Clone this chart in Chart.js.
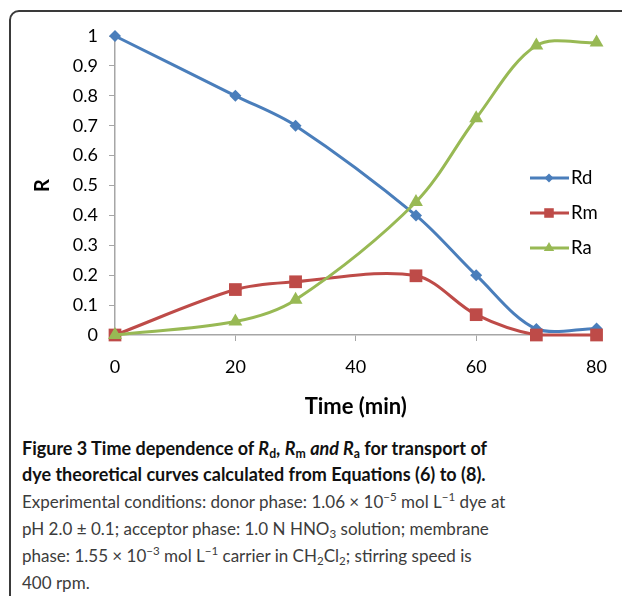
<!DOCTYPE html>
<html>
<head>
<meta charset="utf-8">
<script src="https://cdn.jsdelivr.net/npm/chart.js@4/dist/chart.umd.min.js"></script>
<style>
  html, body { margin: 0; padding: 0; background: #fff; overflow: hidden; }
  body { width: 622px; height: 596px; position: relative; }
  #wrap { position: absolute; left: 0; top: 0; width: 622px; height: 430px; }
  #frame {
    position: absolute; left: 9px; top: 10px; width: 700px; height: 700px;
    border: 2px solid #3a3a3a; border-top-left-radius: 10px;
  }
  .cap {
    position: absolute; left: 22px; top: 435px; white-space: nowrap;
    font-family: Lato, "Open Sans", sans-serif; font-size: 18px; line-height: 26.3px; color: #222;
  }
  .cap .b { font-weight: bold; color: #111; font-size: 18px; }
  .cap .r { color: #3c3c3c; font-size: 17px; }
  sub, sup { font-size: 68%; line-height: 0; }
  sub { vertical-align: -0.25em; }
  sup { vertical-align: 0.6em; }
</style>
</head>
<body>
<div id="frame"></div>
<div id="wrap"><canvas id="fig"></canvas></div>
<div class="cap">
  <span class="b">Figure 3 Time dependence of <i>R</i><sub>d</sub>, <i>R</i><sub>m</sub> <i>and R</i><sub>a</sub> for transport of</span><br>
  <span class="b">dye theoretical curves calculated from Equations (6) to (8).</span><br>
  <span class="r">Experimental conditions: donor phase: 1.06 × 10<sup>−5</sup> mol L<sup>−1</sup> dye at</span><br>
  <span class="r">pH 2.0 ± 0.1; acceptor phase: 1.0 N HNO<sub>3</sub> solution; membrane</span><br>
  <span class="r">phase: 1.55 × 10<sup>−3</sup> mol L<sup>−1</sup> carrier in CH<sub>2</sub>Cl<sub>2</sub>; stirring speed is</span><br>
  <span class="r">400 rpm.</span>
</div>
<script>
// time points (min)
const times = [0, 20, 30, 50, 60, 70, 80];
// fractions
const rd = [1.0, 0.8, 0.7, 0.4, 0.2, 0.02, 0.022];
const rm = [0.0, 0.152, 0.178, 0.198, 0.068, 0.0, 0.0];
const ra = [0.0, 0.045, 0.118, 0.445, 0.725, 0.968, 0.978];
const yTickLabels = ['0', '0.1', '0.2', '0.3', '0.4', '0.5', '0.6', '0.7', '0.8', '0.9', '1'];
const seriesNames = ['Rd', 'Rm', 'Ra'];

const blue = '#4a7ebb', red = '#be4b48', green = '#98b954';
const axisGray = '#a6a6a6';
const fontFam = 'Lato, "Open Sans", sans-serif';

function pts(vals) {
  return times.map((t, i) => ({ x: t, y: vals[i] }));
}

const legendItems = [
  { name: seriesNames[0], color: blue, style: 'rectRot', radius: 6 },
  { name: seriesNames[1], color: red, style: 'rect', radius: 9 },
  { name: seriesNames[2], color: green, style: 'triangle', radius: 8 }
];

const sideLegend = {
  id: 'sideLegend',
  afterDatasetsDraw(chart) {
    const ctx = chart.ctx;
    ctx.save();
    legendItems.forEach((it, i) => {
      const y = 178 + i * 35;
      ctx.strokeStyle = it.color;
      ctx.lineWidth = 3;
      ctx.beginPath();
      ctx.moveTo(530, y);
      ctx.lineTo(569, y);
      ctx.stroke();
      ctx.fillStyle = it.color;
      Chart.helpers.drawPoint(ctx, { pointStyle: it.style, radius: it.radius * 0.75, rotation: 0, borderWidth: 0 }, 549, y);
      ctx.fillStyle = '#000';
      ctx.font = '18.5px ' + fontFam;
      ctx.textBaseline = 'middle';
      ctx.textAlign = 'left';
      ctx.fillText(it.name, 571, y);
    });
    ctx.restore();
  }
};

const makeSet = (label, vals, color, style, radius, order) => ({
  label: label,
  data: pts(vals),
  borderColor: color,
  backgroundColor: color,
  borderWidth: 3,
  pointStyle: style,
  pointRadius: radius,
  pointBorderWidth: 0,
  tension: 0.33,
  clip: false,
  order: order
});

new Chart(document.getElementById('fig'), {
  type: 'line',
  data: {
    datasets: [
      makeSet(seriesNames[0], rd, blue, 'rectRot', 6, 2),
      makeSet(seriesNames[1], rm, red, 'rect', 9, 1),
      makeSet(seriesNames[2], ra, green, 'triangle', 8, 0)
    ]
  },
  options: {
    responsive: true,
    maintainAspectRatio: false,
    animation: false,
    layout: { padding: { top: 36, right: 25, bottom: 0, left: 0 } },
    scales: {
      x: {
        type: 'linear',
        min: 0,
        max: 80,
        afterFit: s => { s.height = 95; },
        ticks: { stepSize: 20, color: '#000', padding: 15, font: { family: fontFam, size: 18 } },
        grid: { drawOnChartArea: false, drawTicks: true, tickLength: 6, color: axisGray },
        border: { color: axisGray, width: 1.5 },
        title: { display: true, text: 'Time (min)', color: '#000', padding: { top: 0, bottom: 10 }, font: { family: fontFam, size: 22, weight: 'bold' } }
      },
      y: {
        min: 0,
        max: 1,
        afterFit: s => { s.width = 115; },
        ticks: { stepSize: 0.1, color: '#000', padding: 11, font: { family: fontFam, size: 18 },
                 callback: (v, i) => yTickLabels[i] },
        grid: { drawOnChartArea: false, drawTicks: true, tickLength: 6, color: axisGray },
        border: { color: axisGray, width: 1.5 },
        title: { display: true, text: 'R', color: '#000', padding: { top: 31, bottom: 0 }, font: { family: fontFam, size: 20, weight: 'bold' } }
      }
    },
    plugins: {
      legend: { display: false },
      tooltip: { enabled: false }
    }
  },
  plugins: [sideLegend]
});
</script>
</body>
</html>
